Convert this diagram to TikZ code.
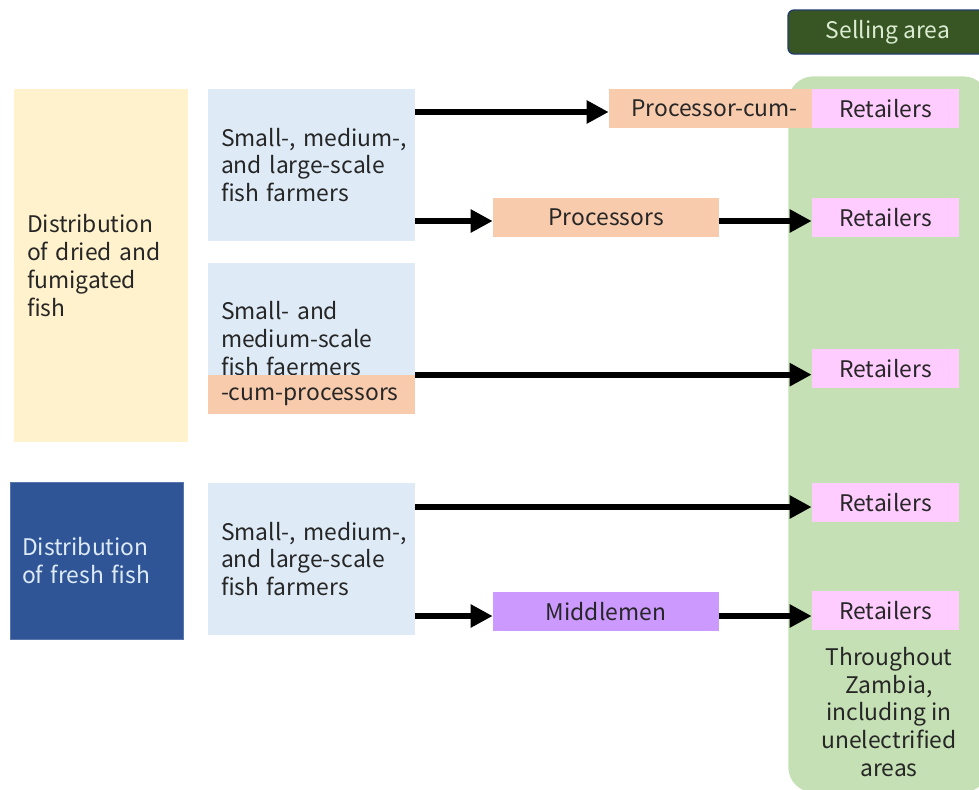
\documentclass[tikz,border=0pt]{standalone}
\usepackage{fontspec}
\setmainfont{Noto Sans CJK JP}
\usepackage{tikz}
\usetikzlibrary{arrows.meta}
\definecolor{dryfill}{HTML}{FFF2CC}
\definecolor{freshfill}{HTML}{2F5597}
\definecolor{farmfill}{HTML}{DEEBF7}
\definecolor{procfill}{HTML}{F8CBAD}
\definecolor{retailfill}{HTML}{FFCCFF}
\definecolor{middlefill}{HTML}{CC99FF}
\definecolor{areafill}{HTML}{C5E0B4}
\definecolor{sellfill}{HTML}{375623}
\definecolor{textgray}{HTML}{262626}
\tikzstyle{dried} = [rectangle, inner sep=0pt, minimum width=3.48cm, minimum height=7.06cm, text width=2.96cm, align=left, fill=dryfill, text=textgray]
\tikzstyle{fresh} = [rectangle, inner sep=0pt, minimum width=3.46cm, minimum height=3.14cm, text width=2.98cm, align=left, fill=freshfill, draw=freshfill!80!white, text=farmfill]
\tikzstyle{farmer} = [rectangle, inner sep=0pt, minimum width=4.14cm, minimum height=3.04cm, text width=3.62cm, align=left, fill=farmfill, text=textgray]
\tikzstyle{cumproc} = [rectangle, inner sep=0pt, minimum width=4.14cm, minimum height=0.78cm, text width=3.62cm, text depth=0pt, align=left, fill=procfill, text=textgray]
\tikzstyle{processor} = [rectangle, inner sep=0pt, minimum width=4.52cm, minimum height=0.78cm, text centered, fill=procfill, text=textgray]
\tikzstyle{middle} = [rectangle, inner sep=0pt, minimum width=4.52cm, minimum height=0.78cm, text centered, fill=middlefill, text=textgray]
\tikzstyle{retailer} = [rectangle, inner sep=0pt, minimum width=2.94cm, minimum height=0.78cm, text centered, fill=retailfill, text=textgray]
\tikzstyle{arrow} = [line width=3.3pt, -{Triangle[length=0.44cm, width=0.44cm]}]

\begin{document}
\begin{tikzpicture}[x=0.02cm, y=-0.02cm, font=\fontsize{13}{15.9}\selectfont]
\path[use as bounding box, clip] (0,0) rectangle (979,789);

% selling area
\node (region) [rectangle, anchor=north west, minimum width=4cm, minimum height=14.32cm, rounded corners=0.5cm, fill=areafill] at (788,76) {};
\node (sellarea) [rectangle, rounded corners=0.12cm, minimum width=4.04cm, minimum height=0.88cm, fill=sellfill, draw=freshfill!70!black, line width=0.8pt, text=areafill!60!white] at (889,32) {\hspace*{-0.04cm}Selling area};
\node (areanote) [align=center, text=textgray] at (889,712) {Throughout\\Zambia,\\including in\\unelectrified\\areas};

% left column
\node (dried) [dried] at (101,265.5) {Distribution\\of dried and\\fumigated\\fish};
\node (fresh) [fresh] at (96.5,560.5) {Distribution\\of fresh fish};

% producers
\node (farm1) [farmer] at (311.5,165) {\mbox{Small-, medium-,}\\and large-scale\\fish farmers};
\node (farm2) [farmer, minimum height=3.02cm] at (311.5,338.5) {Small- and\\medium-scale\\fish faermers};
\node (cumproc) [cumproc] at (311.5,394.5) {-cum-processors};
\node (farm3) [farmer] at (311.5,559) {\mbox{Small-, medium-,}\\and large-scale\\fish farmers};

% intermediaries
\node (proccum) [processor, minimum width=4.22cm] at (714.5,108.5) {Processor-cum-};
\node (procs) [processor] at (606,217.5) {Processors};
\node (middle) [middle] at (606,611.5) {Middlemen};

% retailers
\node (retail1) [retailer] at (885.5,108.5) {Retailers};
\node (retail2) [retailer] at (885.5,217.5) {Retailers};
\node (retail3) [retailer] at (885.5,368.5) {Retailers};
\node (retail4) [retailer] at (885.5,502.5) {Retailers};
\node (retail5) [retailer] at (885.5,610.5) {Retailers};

\draw [arrow] (farm1.east |- 0,112) -- (proccum.west |- 0,112);
\draw [arrow] (farm1.east |- 0,221) -- (procs.west |- 0,221);
\draw [arrow] (procs.east |- 0,221) -- (retail2.west |- 0,221);
\draw [arrow] (cumproc.north east) -- (cumproc.north east -| retail3.west);
\draw [arrow] (farm3.east |- 0,507) -- (retail4.west |- 0,507);
\draw [arrow] (farm3.east |- 0,616) -- (middle.west |- 0,616);
\draw [arrow] (middle.east |- 0,616) -- (retail5.west |- 0,616);
\end{tikzpicture}
\end{document}
